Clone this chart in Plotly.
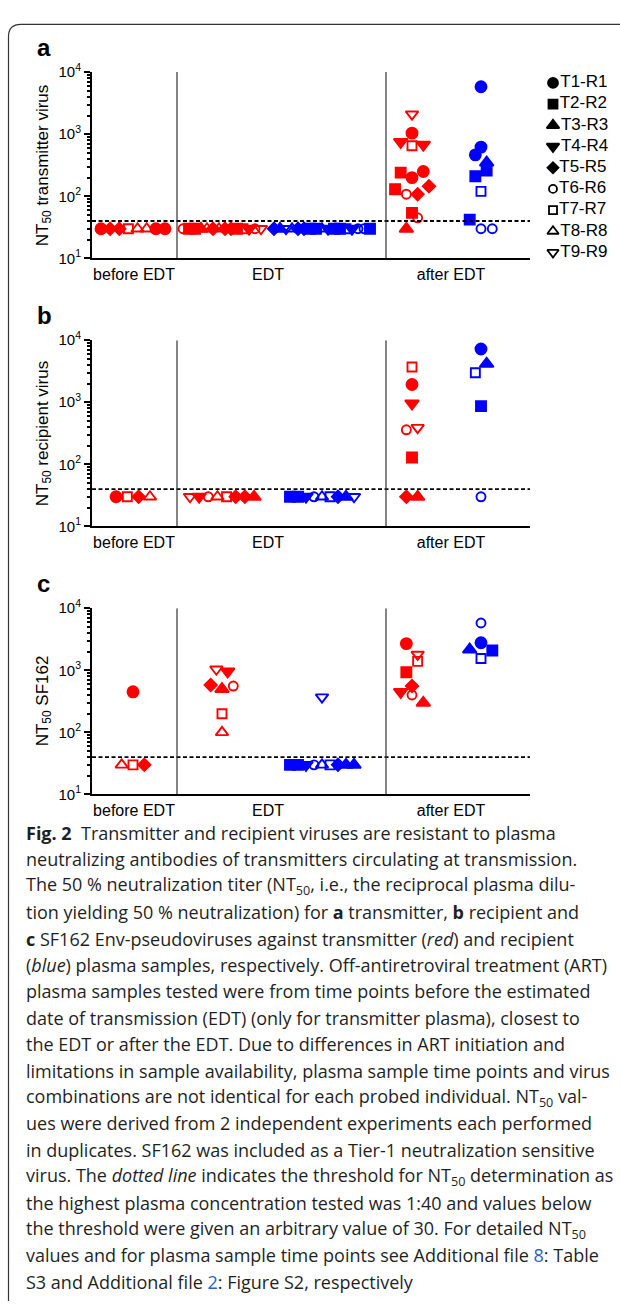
import math
import plotly.graph_objects as go

W, H = 620, 1309

# ---------------- data ----------------
LEGEND_LABELS = ["T1-R1", "T2-R2", "T3-R3", "T4-R4", "T5-R5", "T6-R6", "T7-R7", "T8-R8", "T9-R9"]
CATEGORIES = ["before EDT", "EDT", "after EDT"]
Y_TICKS = [10, 100, 1000, 10000]
Y_TICK_TEXT = ["10<sup>1</sup>", "10<sup>2</sup>", "10<sup>3</sup>", "10<sup>4</sup>"]
THRESHOLD = 40

# subject index (1..9 -> T1-R1..T9-R9) and NT50 values per group
# panel a: transmitter virus
A_BEFORE_TX_ID = [1, 5, 5, 7, 8, 8, 1, 1]
A_BEFORE_TX_NT50 = [30, 30, 30, 30, 30, 30, 30, 30]
A_EDT_TX_ID = [6, 2, 2, 3, 8, 5, 8, 5, 5, 2, 7, 4, 6, 9]
A_EDT_TX_NT50 = [30, 30, 30, 30, 30, 30, 30, 30, 30, 30, 30, 30, 30, 30]
A_EDT_RC_ID = [5, 3, 9, 8, 5, 5, 2, 2, 8, 4, 2, 2, 7, 4, 6, 6, 2]
A_EDT_RC_NT50 = [30, 30, 30, 30, 30, 30, 30, 30, 30, 30, 30, 30, 30, 30, 30, 30, 30]
A_AFTER_TX_ID = [9, 1, 4, 7, 4, 2, 1, 1, 2, 6, 5, 5, 2, 3, 6]
A_AFTER_TX_NT50 = [2100, 1040, 750, 650, 680, 240, 200, 250, 130, 108, 108, 145, 54, 30, 45]
A_AFTER_RC_ID = [1, 1, 1, 3, 2, 2, 7, 2, 6, 6]
A_AFTER_RC_NT50 = [5800, 620, 465, 350, 210, 260, 120, 42, 30, 30]

# panel b: recipient virus
B_BEFORE_TX_ID = [1, 7, 5, 8]
B_BEFORE_TX_NT50 = [30, 30, 30, 30]
B_EDT_TX_ID = [9, 4, 6, 8, 7, 5, 5, 3]
B_EDT_TX_NT50 = [30, 30, 30, 30, 30, 30, 30, 30]
B_EDT_RC_ID = [2, 2, 4, 6, 8, 7, 5, 3, 9]
B_EDT_RC_NT50 = [30, 30, 30, 30, 30, 30, 30, 30, 30]
B_AFTER_TX_ID = [7, 1, 4, 6, 9, 2, 5, 3]
B_AFTER_TX_NT50 = [3700, 1930, 960, 360, 390, 129, 30, 30]
B_AFTER_RC_ID = [1, 7, 3, 2, 6]
B_AFTER_RC_NT50 = [7200, 2990, 4150, 865, 30]

# panel c: SF162
C_BEFORE_TX_ID = [1, 8, 7, 5]
C_BEFORE_TX_NT50 = [450, 30, 30, 30]
C_EDT_TX_ID = [9, 4, 5, 3, 6, 7, 8]
C_EDT_TX_NT50 = [1040, 960, 578, 500, 557, 200, 100]
C_EDT_RC_ID = [9, 2, 2, 4, 6, 8, 7, 5, 3, 3]
C_EDT_RC_NT50 = [370, 30, 30, 30, 30, 30, 30, 30, 30, 30]
C_AFTER_TX_ID = [1, 9, 2, 7, 4, 5, 6, 3]
C_AFTER_TX_NT50 = [2690, 1800, 930, 1390, 448, 557, 400, 300]
C_AFTER_RC_ID = [6, 1, 3, 7, 2]
C_AFTER_RC_NT50 = [5780, 2780, 2150, 1550, 2080]

Y_TITLES = ["NT<sub>50</sub> transmitter virus", "NT<sub>50</sub> recipient virus", "NT<sub>50</sub> SF162"]
PANEL_LETTERS = ["a", "b", "c"]

CAPTION = [
    "<b>Fig. 2</b>  Transmitter and recipient viruses are resistant to plasma",
    "neutralizing antibodies of transmitters circulating at transmission.",
    "The 50 % neutralization titer (NT<sub>50</sub>, i.e., the reciprocal plasma dilu-",
    "tion yielding 50 % neutralization) for <b>a</b> transmitter, <b>b</b> recipient and",
    "<b>c</b> SF162 Env-pseudoviruses against transmitter (<i>red</i>) and recipient",
    "(<i>blue</i>) plasma samples, respectively. Off-antiretroviral treatment (ART)",
    "plasma samples tested were from time points before the estimated",
    "date of transmission (EDT) (only for transmitter plasma), closest to",
    "the EDT or after the EDT. Due to differences in ART initiation and",
    "limitations in sample availability, plasma sample time points and virus",
    "combinations are not identical for each probed individual. NT<sub>50</sub> val-",
    "ues were derived from 2 independent experiments each performed",
    "in duplicates. SF162 was included as a Tier-1 neutralization sensitive",
    "virus. The <i>dotted line</i> indicates the threshold for NT<sub>50</sub> determination as",
    "the highest plasma concentration tested was 1:40 and values below",
    "the threshold were given an arbitrary value of 30. For detailed NT<sub>50</sub>",
    "values and for plasma sample time points see Additional file <span style='color:#2b5fc7'>8</span>: Table",
    "S3 and Additional file <span style='color:#2b5fc7'>2</span>: Figure S2, respectively",
]

# ---------------- styles / layout ----------------
RED = "#ff0000"
BLUE = "#0000ff"
SYMBOL = {1: "circle", 2: "square", 3: "triangle-up", 4: "triangle-down", 5: "diamond",
          6: "circle-open", 7: "square-open", 8: "triangle-up-open", 9: "triangle-down-open"}
SIZE = {1: 11, 2: 10, 3: 12, 4: 12, 5: 9.5, 6: 9, 7: 9, 8: 11, 9: 11}

FONT = "Liberation Sans, Arial, sans-serif"
CAP_FONT = "Open Sans, sans-serif"
AX_LEFT, AX_RIGHT = 92, 530            # pixel extent of plot area
PANEL_TOPS = [62, 334, 606]
PANEL_BOTTOMS = [251, 523, 795]
XSPAN = AX_RIGHT - AX_LEFT             # x axis in pixel units
CENTERS = {"before": 41, "edt_tx": 130, "edt_rc": 230, "after_tx": 320, "after_rc": 389}
SEPARATORS = [85, 294]
CAT_POS = [42, 176, 359]

groups = [
    (0, "before", A_BEFORE_TX_ID, A_BEFORE_TX_NT50, RED),
    (0, "edt_tx", A_EDT_TX_ID, A_EDT_TX_NT50, RED),
    (0, "edt_rc", A_EDT_RC_ID, A_EDT_RC_NT50, BLUE),
    (0, "after_tx", A_AFTER_TX_ID, A_AFTER_TX_NT50, RED),
    (0, "after_rc", A_AFTER_RC_ID, A_AFTER_RC_NT50, BLUE),
    (1, "before", B_BEFORE_TX_ID, B_BEFORE_TX_NT50, RED),
    (1, "edt_tx", B_EDT_TX_ID, B_EDT_TX_NT50, RED),
    (1, "edt_rc", B_EDT_RC_ID, B_EDT_RC_NT50, BLUE),
    (1, "after_tx", B_AFTER_TX_ID, B_AFTER_TX_NT50, RED),
    (1, "after_rc", B_AFTER_RC_ID, B_AFTER_RC_NT50, BLUE),
    (2, "before", C_BEFORE_TX_ID, C_BEFORE_TX_NT50, RED),
    (2, "edt_tx", C_EDT_TX_ID, C_EDT_TX_NT50, RED),
    (2, "edt_rc", C_EDT_RC_ID, C_EDT_RC_NT50, BLUE),
    (2, "after_tx", C_AFTER_TX_ID, C_AFTER_TX_NT50, RED),
    (2, "after_rc", C_AFTER_RC_ID, C_AFTER_RC_NT50, BLUE),
]


def swarm_offsets(values, step=11.3, bin_h=0.19):
    """Scatter-dot-plot layout: bin points by log value, spread each bin horizontally."""
    n = len(values)
    logs = [math.log10(v) for v in values]
    order = sorted(range(n), key=lambda i: (logs[i], i))
    bins, cur, start = [], [], None
    for i in order:
        if cur and logs[i] - start <= bin_h:
            cur.append(i)
        else:
            if cur:
                bins.append(cur)
            cur, start = [i], logs[i]
    if cur:
        bins.append(cur)
    off = [0.0] * n
    for b in bins:
        b = sorted(b)
        k = len(b)
        d = step if k <= 4 else max(6.0, min(step, 64.0 / (k - 1)))
        for j, i in enumerate(b):
            off[i] = (j - (k - 1) / 2) * d
    return off


fig = go.Figure()

for p, key, ids, vals, col in groups:
    offs = swarm_offsets(vals)
    xs = [CENTERS[key] + o for o in offs]
    suffix = "" if p == 0 else str(p + 1)
    fig.add_trace(go.Scatter(
        x=xs, y=vals, mode="markers", xaxis="x" + suffix, yaxis="y" + suffix,
        marker=dict(symbol=[SYMBOL[i] for i in ids], size=[SIZE[i] for i in ids],
                    color=col, opacity=1, line=dict(color=col, width=1.9)),
        showlegend=False, hoverinfo="skip"))

# threshold and separators
for p in range(3):
    suffix = "" if p == 0 else str(p + 1)
    fig.add_trace(go.Scatter(
        x=[0, XSPAN], y=[THRESHOLD, THRESHOLD], mode="lines", xaxis="x" + suffix, yaxis="y" + suffix,
        line=dict(color="black", width=1.8, dash="4px,2.5px"), showlegend=False, hoverinfo="skip"))
    for sx in SEPARATORS:
        fig.add_trace(go.Scatter(
            x=[sx, sx], y=[10, 10000], mode="lines", xaxis="x" + suffix, yaxis="y" + suffix,
            line=dict(color="#333333", width=1.2), showlegend=False, hoverinfo="skip"))

# legend drawn on a full-page overlay axis (pixel units)
LEG_X, LEG_Y0, LEG_DY = 553, 73, 21.5
fig.add_trace(go.Scatter(
    x=[LEG_X] * 9, y=[LEG_Y0 + i * LEG_DY for i in range(9)], mode="markers+text",
    text=LEGEND_LABELS, textposition="middle right",
    textfont=dict(family=FONT, size=17, color="black"),
    marker=dict(symbol=[SYMBOL[i] for i in range(1, 10)], size=[SIZE[i] - 1 for i in range(1, 10)],
                color="black", opacity=1, line=dict(color="black", width=1.8)),
    xaxis="x4", yaxis="y4", showlegend=False, hoverinfo="skip"))

layout = dict(
    width=W, height=H, margin=dict(l=0, r=0, t=0, b=0), autosize=False,
    paper_bgcolor="white", plot_bgcolor="rgba(0,0,0,0)", showlegend=False,
    font=dict(family=FONT, color="black"),
)

minor_vals = [m * 10 ** e for e in range(1, 4) for m in range(2, 10)]
for p in range(3):
    suffix = "" if p == 0 else str(p + 1)
    top, bot = PANEL_TOPS[p], PANEL_BOTTOMS[p]
    layout["xaxis" + suffix] = dict(
        domain=[AX_LEFT / W, AX_RIGHT / W], range=[0, XSPAN], anchor="y" + suffix,
        showline=True, linecolor="black", linewidth=2, ticks="", showgrid=False, zeroline=False,
        tickmode="array", tickvals=CAT_POS, ticktext=CATEGORIES, ticklabelstandoff=0,
        tickfont=dict(family=FONT, size=16, color="black"), fixedrange=True)
    layout["yaxis" + suffix] = dict(
        domain=[1 - bot / H, 1 - top / H], type="log", range=[1, 4], anchor="x" + suffix,
        showline=True, linecolor="black", linewidth=2, showgrid=False, zeroline=False,
        ticks="outside", ticklen=6, tickwidth=2, tickcolor="black",
        tickmode="array", tickvals=Y_TICKS, ticktext=Y_TICK_TEXT,
        tickfont=dict(family=FONT, size=15, color="black"),
        minor=dict(ticks="outside", ticklen=3, tickwidth=1.5, tickcolor="black",
                   tickmode="array", tickvals=minor_vals, showgrid=False),
        fixedrange=True)

layout["xaxis4"] = dict(domain=[0, 1], range=[0, W], visible=False, anchor="y4", fixedrange=True)
layout["yaxis4"] = dict(domain=[0, 1], range=[H, 0], visible=False, anchor="x4", fixedrange=True)

annotations = []
for p in range(3):
    top, bot = PANEL_TOPS[p], PANEL_BOTTOMS[p]
    annotations.append(dict(
        x=44 / W, y=1 - ((top + bot) / 2) / H, xref="paper", yref="paper",
        text=Y_TITLES[p], textangle=-90, showarrow=False,
        font=dict(family=FONT, size=17, color="black"), xanchor="center", yanchor="middle"))
    annotations.append(dict(
        x=35 / W, y=1 - (top - 25) / H, xref="paper", yref="paper",
        text="<b>%s</b>" % PANEL_LETTERS[p], showarrow=False,
        font=dict(family=FONT, size=24, color="black"), xanchor="left", yanchor="middle"))

CAP_Y0, CAP_DY = 834, 26.8
for i, line in enumerate(CAPTION):
    annotations.append(dict(
        x=24 / W, y=1 - (CAP_Y0 + i * CAP_DY) / H, xref="paper", yref="paper",
        text=line, showarrow=False, align="left",
        font=dict(family=CAP_FONT, size=18, color="#1f1f1f"),
        xanchor="left", yanchor="middle"))
layout["annotations"] = annotations

layout["shapes"] = [dict(
    type="path", xref="x4", yref="y4",
    path="M 8.5,1330 L 8.5,26 Q 8.5,13.5 21,13.5 L 640,13.5",
    line=dict(color="#333333", width=1.2), layer="below")]

fig.update_layout(**layout)
fig.write_html("out.html", config={"displayModeBar": False})
